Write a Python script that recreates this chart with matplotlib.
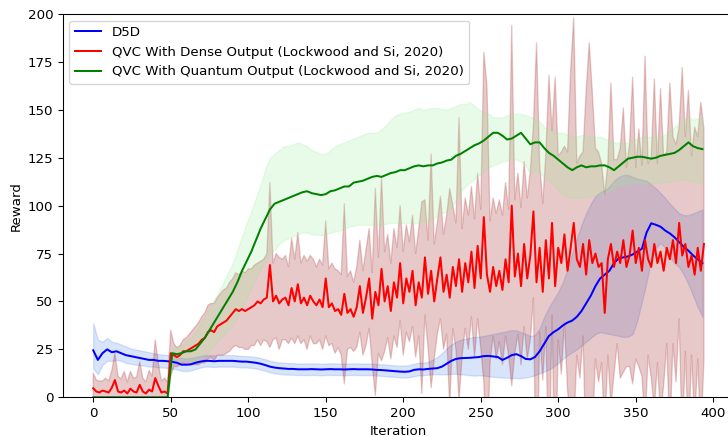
import numpy as np
import matplotlib
matplotlib.use("Agg")
import matplotlib.pyplot as plt

# iterations (red series read every 2 iterations, smooth series every 3)
it_red = np.arange(0, 395, 2)
it_smooth = np.arange(0, 395, 3)

# QVC With Dense Output: mean and spread
red_mean = [4.7, 3, 2.5, 3.5, 3, 2.5, 5, 9, 3, 2.5, 3.5, 2, 4.5, 3, 2.5, 6.5, 3, 2, 4, 3, 10, 6, 2.5, 3, 2,
            23, 22, 21, 22, 24, 24, 25, 26, 27, 28, 30, 31, 34, 35, 34, 37, 38, 39, 40, 42, 44, 46, 45, 46, 45, 46,
            47, 48, 50, 49, 51, 52, 69, 50, 53, 49, 51, 52, 48, 57, 50, 59, 49, 52, 48, 53, 50, 48, 51, 47, 62,
            47, 49, 45, 46, 43, 54, 44, 46, 42, 47,
            58, 44, 52, 62, 41, 55, 48, 67, 50, 58, 45, 60, 52, 70, 49, 62, 55, 66, 48, 60, 52, 73, 54, 66, 50,
            62, 73, 55, 64, 52, 68, 58, 72, 55, 70, 60, 76, 57, 79, 62, 94, 64, 55, 68, 58, 66, 56, 72, 60, 100,
            63, 75, 58, 80, 62, 74, 97, 60, 78, 55, 82, 62, 91, 58, 78,
            70, 85, 66, 78, 91, 72, 68, 80, 64, 82, 70, 75, 68, 70, 44, 72, 80, 68, 76, 70, 82, 68, 74, 87, 70,
            78, 66, 82, 72, 68, 80, 70, 76, 66, 78, 72, 82, 70, 91, 74, 80, 68, 74, 64, 78, 66, 80]
red_std = [8, 6, 6, 5, 7, 6, 9, 14, 8, 7, 10, 6, 9, 7, 8, 12, 7, 6, 10, 8, 20, 12, 6, 7, 6,
           12, 6, 5, 5, 6, 7, 8, 9, 10, 11, 12, 13, 14, 14, 15, 15, 16, 17, 17, 18, 18, 19, 19, 20, 20, 21,
           20, 21, 20, 22, 21, 23, 43, 20, 22, 24, 21, 22, 20, 26, 22, 27, 21, 22, 23, 21, 22, 20, 21, 22, 30,
           20, 21, 22, 20, 21, 47, 19, 20, 18, 21,
           24, 22, 25, 26, 24, 54, 25, 48, 26, 27, 25, 28, 26, 30, 27, 28, 26, 29, 27, 28, 50, 30, 28, 61, 30,
           29, 32, 30, 31, 57, 32, 33, 74, 33, 34, 35, 34, 36, 38, 36, 86, 99, 37, 36, 38, 37, 39, 40, 38, 94,
           40, 42, 41, 43, 42, 44, 45, 125, 44, 46, 45, 106, 48, 109, 48,
           58, 46, 62, 93, 107, 50, 58, 48, 96, 103, 89, 55, 60, 52, 62, 50, 84, 56, 48, 60, 69, 52, 58, 80, 50,
           62, 55, 96, 50, 58, 86, 52, 85, 60, 50, 92, 54, 62, 50, 98, 56, 92, 52, 77, 58, 88, 60]

# D5D
blue_mean = [24.5, 19.5, 23, 25, 23.5, 24, 23, 22, 21.5, 21,
             20.5, 20, 19.5, 19.5, 19, 19, 18.8, 18.5, 18, 17,
             17, 17.2, 18, 18.6, 19, 19, 18.8, 19, 19, 19,
             19, 18.8, 18.6, 18.6, 18.3, 18, 17.5, 16.8, 16, 15.5,
             15.2, 15, 14.8, 14.8, 14.6, 14.6, 14.6, 14.7, 14.6, 14.5,
             14.6, 14.7, 14.6, 14.6, 14.5, 14.6, 14.7, 14.6, 14.6, 14.6,
             14.5, 14.3, 14.2, 14, 13.8, 13.6, 13.4, 13.3, 13.5, 14.3,
             14.6, 14.5, 14.8, 15, 15.2, 16, 17.5, 19, 20, 20.4,
             20.5, 20.6, 20.8, 21, 21.5, 21.6, 21.3, 21, 19.5, 20.6,
             22, 22.5, 21.5, 20, 19.8, 21, 24, 28, 32, 34,
             35.5, 37.5, 39, 40, 42, 45, 49, 53, 58, 62,
             64, 66, 70, 72.5, 73, 73.5, 74.5, 76, 77.5, 86,
             90.8, 90, 89, 87, 85.5, 83.5, 81, 78.5, 76.5, 74,
             72, 70]
blue_hi = [38.6, 30, 29, 31, 29, 28.5, 27.5, 26.5, 25.5, 25,
           24.5, 24, 23.5, 23, 22.5, 22.3, 22, 21.5, 21, 20.5,
           20.3, 20.5, 21, 21.5, 22, 22, 21.8, 22, 22, 22,
           22, 21.8, 21.5, 21.5, 21.3, 21, 20.5, 19.8, 19, 18.5,
           18.2, 18, 17.8, 17.8, 17.6, 17.6, 17.6, 17.7, 17.6, 17.5,
           17.6, 17.7, 17.6, 17.6, 17.5, 17.6, 17.7, 17.6, 17.6, 17.6,
           17.5, 17.3, 17.2, 17, 16.8, 16.6, 16.5, 16.5, 16.8, 17.5,
           18, 18, 18.5, 19.5, 21, 23, 25.5, 27.5, 29, 30,
           30.5, 31, 31.5, 31.6, 32, 32.5, 33, 33.5, 34, 34.5,
           35, 35, 34, 33, 32, 32.5, 36, 42, 47, 51,
           55, 60, 67, 75, 83, 90, 96, 101, 105, 107,
           108, 110, 113, 115, 116, 116, 115, 114, 113.5, 113,
           111, 109, 106.5, 104, 101, 98.5, 96, 95, 95, 96,
           97, 98]
blue_lo = [15, 12, 17, 19, 19, 19.5, 19, 18, 17.5, 17,
           16.8, 16.5, 16, 16, 15.7, 15.5, 15.3, 15, 14.5, 13.8,
           13.7, 14, 14.8, 15.5, 16, 16, 15.8, 16, 16, 16,
           16, 15.8, 15.6, 15.6, 15.3, 15, 14.5, 13.8, 13, 12.5,
           12.2, 12, 11.8, 11.8, 11.6, 11.6, 11.6, 11.7, 11.6, 11.5,
           11.6, 11.7, 11.6, 11.6, 11.5, 11.6, 11.7, 11.6, 11.6, 11.6,
           11.5, 11.3, 11.2, 11, 10.8, 10.6, 10.4, 10.3, 10.5, 11,
           11.5, 11.5, 11.8, 12, 12, 12, 12, 12.2, 12.3, 12,
           11.8, 11.5, 11.3, 11.5, 11.3, 11, 10.7, 10.5, 10.3, 10.2,
           10, 10, 10, 10.3, 10.8, 11.5, 12.5, 13.5, 14.5, 16,
           18, 20, 22, 23.5, 25, 27, 29, 31, 33, 34,
           33.5, 33, 32.5, 32, 31.5, 31.6, 33, 40, 50, 60,
           72, 78, 80.6, 78, 73, 70, 68, 64, 59, 53,
           47, 42]

# QVC With Quantum Output
green_mean = [0] * 17 + [
    23, 22.5, 23, 24, 24, 25, 28, 31, 35, 39,
    43, 47, 51, 55, 60, 66, 71, 76, 82, 88,
    93, 98, 101, 102, 103, 104, 105, 106, 107, 107.5,
    106.5, 106, 105.5, 106, 107.5, 108, 109, 110, 110, 112,
    112.5, 113, 114, 115, 115.5, 115, 116, 117, 117.5, 118.5,
    118.5, 119.5, 120.5, 121, 120.5, 121, 121, 122, 122.5, 123.5,
    124, 126, 127, 128.5, 130, 131.5, 132.5, 134, 136, 138,
    138, 136.5, 134.5, 135, 136.5, 138, 135, 132, 133, 133,
    130, 127.5, 126, 124, 122, 120, 118.5, 120, 121, 120,
    120.5, 120.5, 121, 121, 120, 118.5, 120.5, 122.5, 124.5, 125,
    125.5, 125.5, 125, 124.5, 125, 126, 126.5, 127, 127.5, 129,
    131, 133, 131, 130, 129.5]
green_hi = [0] * 17 + [
    26, 26, 27, 29, 31, 34, 38, 42, 46, 51,
    55, 60, 65, 70, 77, 84, 91, 97, 104, 111,
    119, 125, 127, 129, 131, 131, 132, 133, 132, 131,
    129, 128, 127, 127, 129, 131, 132, 133, 134, 135,
    136, 137, 138, 138, 138, 140, 142, 145, 147, 148,
    148.5, 149, 150, 151, 150, 150.5, 151, 151, 150.5, 150,
    151, 152, 153, 153, 154, 152, 150, 149, 148, 146,
    146, 146, 147, 148, 148, 148, 147, 146.5, 145, 144,
    141, 140, 139, 138, 138, 137, 136, 136, 137, 136.5,
    136, 136, 136, 135, 134, 133, 133, 132.5, 133, 134,
    135, 136, 136, 136, 136, 136, 137, 139, 141, 143,
    145, 146, 145, 145.5, 146]
green_lo = [0] * 17 + [
    20, 19.5, 19.5, 19.5, 19, 19, 20, 22, 24, 27,
    30, 32, 35, 38, 42, 47, 52, 57, 62, 67,
    71, 75, 77, 80, 82, 83, 84, 85, 86, 86,
    85, 85, 84.5, 85, 86, 86.5, 87, 88, 89, 89.5,
    90, 90, 90, 90, 90, 90, 90.5, 91, 91, 91,
    91, 91, 91, 91, 91.5, 92, 93, 95, 96, 97,
    99, 103, 107, 110, 112, 114, 116, 118, 120, 121,
    122, 123, 123.5, 124, 124, 123, 121, 117, 118, 117,
    115, 113, 111, 108, 105.6, 104.5, 104, 104, 104.5, 104.5,
    105, 105, 106, 107, 108, 109, 110.5, 111, 111.5, 111.7,
    111.7, 111.5, 111.5, 111.5, 112, 112, 112, 112.5, 113, 113.5,
    113.5, 113, 112.5, 112, 111.7]

red_mean = np.array(red_mean)
red_std = np.array(red_std)

DPI = 96
fig = plt.figure(figsize=(728 / DPI, 437 / DPI), dpi=DPI)
ax = fig.add_axes([0.0861, 0.0909, 0.9228, 0.8771])

# shaded bands
ax.fill_between(it_smooth, blue_lo, blue_hi, color='cornflowerblue', alpha=0.25)
ax.fill_between(it_red, red_mean - red_std, red_mean + red_std, color='brown', alpha=0.25)
ax.fill_between(it_smooth, green_lo, green_hi, color='lightgreen', alpha=0.2)

# mean curves
ax.plot(it_smooth, blue_mean, color='blue', label='D5D')
ax.plot(it_red, red_mean, color='red', label='QVC With Dense Output (Lockwood and Si, 2020)')
ax.plot(it_smooth, green_mean, color='green', label='QVC With Quantum Output (Lockwood and Si, 2020)')

ax.set_ylim(0, 200)
ax.set_xlabel('Iteration')
ax.set_ylabel('Reward')
ax.legend(loc='upper left')

fig.savefig('out.png', dpi=DPI)
